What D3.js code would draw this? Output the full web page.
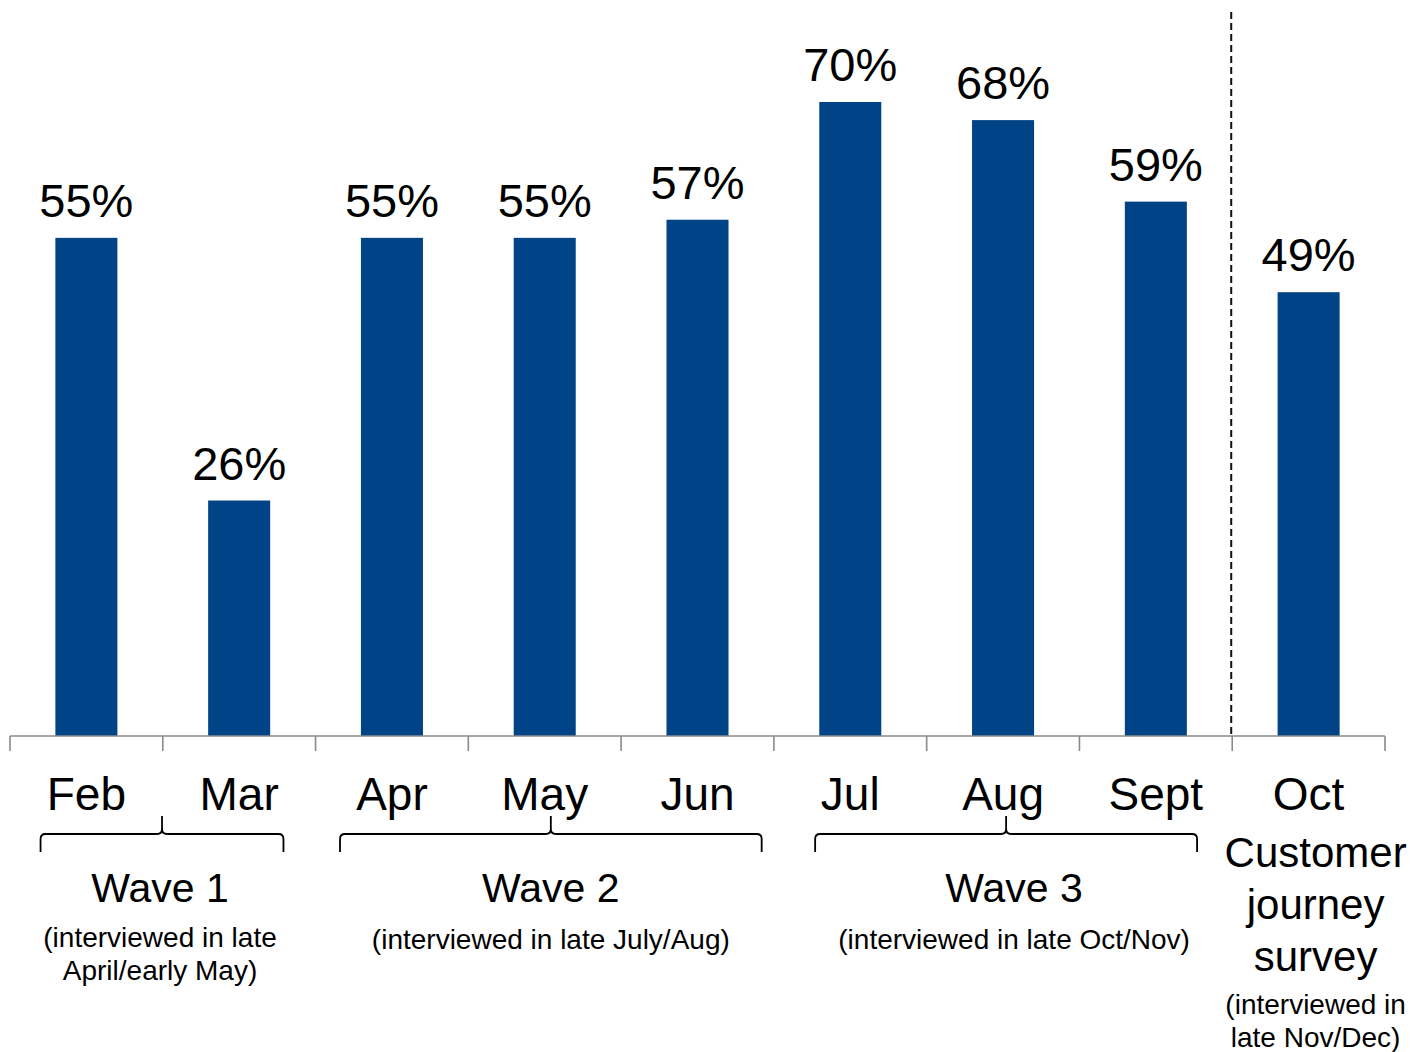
<!DOCTYPE html>
<html>
<head>
<meta charset="utf-8">
<script src="https://cdn.jsdelivr.net/npm/d3@7"></script>
<style>
  html, body { margin: 0; padding: 0; background: #fff; }
  svg { display: block; font-family: "Liberation Sans", Arial, sans-serif; }
</style>
</head>
<body>
<svg id="chart" width="1412" height="1052"></svg>
<script>
// Monthly share (%) by survey month
const months = ["Feb", "Mar", "Apr", "May", "Jun", "Jul", "Aug", "Sept", "Oct"];
const values = [55, 26, 55, 55, 57, 70, 68, 59, 49];

// Survey waves grouping the months
const waveNames = ["Wave 1", "Wave 2", "Wave 3"];
const waveMonths = [["Feb", "Mar"], ["Apr", "May", "Jun"], ["Jul", "Aug", "Sept"]];
const waveNotes = [
  ["(interviewed in late", "April/early May)"],
  ["(interviewed in late July/Aug)"],
  ["(interviewed in late Oct/Nov)"]
];

// Separate customer journey survey in October
const cjTitle = ["Customer", "journey", "survey"];
const cjNote = ["(interviewed in", "late Nov/Dec)"];

const svg = d3.select("#chart");
const axisY = 736;

const x = d3.scaleBand()
  .domain(months)
  .range([10, 1385])
  .paddingInner(0.594)
  .paddingOuter(0.297);

const y = d3.scaleLinear()
  .domain([0, 70])
  .range([axisY, 102]);

const step = x.step();
const bandStart = m => x(m) - x.paddingOuter() * step;

// Bars
svg.append("g")
  .selectAll("rect")
  .data(months)
  .join("rect")
  .attr("x", d => x(d))
  .attr("width", x.bandwidth())
  .attr("y", (d, i) => y(values[i]))
  .attr("height", (d, i) => axisY - y(values[i]))
  .attr("fill", "#014387");

// Value labels
svg.append("g")
  .selectAll("text")
  .data(months)
  .join("text")
  .attr("x", d => x(d) + x.bandwidth() / 2)
  .attr("y", (d, i) => y(values[i]) - 21)
  .attr("text-anchor", "middle")
  .attr("font-size", 47)
  .attr("fill", "#000")
  .text((d, i) => values[i] + "%");

// Category axis: baseline with ticks at the band boundaries
const axisG = svg.append("g").attr("stroke", "#8a8a8a").attr("stroke-width", 1.6);
axisG.append("line")
  .attr("x1", 10).attr("x2", 1385)
  .attr("y1", axisY).attr("y2", axisY);
const tickXs = months.map(m => bandStart(m)).concat([1385]);
axisG.selectAll("line.tick")
  .data(tickXs)
  .join("line")
  .attr("class", "tick")
  .attr("x1", d => d).attr("x2", d => d)
  .attr("y1", axisY).attr("y2", axisY + 15);

// Month labels
svg.append("g")
  .selectAll("text")
  .data(months)
  .join("text")
  .attr("x", d => x(d) + x.bandwidth() / 2)
  .attr("y", 810)
  .attr("text-anchor", "middle")
  .attr("font-size", 46)
  .attr("fill", "#000")
  .text(d => d);

// Dashed separator before the customer journey survey
const sepX = bandStart("Oct") - 1;
svg.append("line")
  .attr("x1", sepX).attr("x2", sepX)
  .attr("y1", 12).attr("y2", axisY)
  .attr("stroke", "#111")
  .attr("stroke-width", 2)
  .attr("stroke-dasharray", "7,4");

// Curly braces under each wave
const braceInset = [[0.2, 0.21], [0.16, 0.08], [0.27, 0.23]];
const braceTop = 834, braceTip = 852, bracePeak = 816, r = 5;
waveMonths.forEach((ms, i) => {
  const first = ms[0], last = ms[ms.length - 1];
  const x0 = bandStart(first) + braceInset[i][0] * step;
  const x1 = bandStart(last) + step - braceInset[i][1] * step;
  const mid = (x0 + x1) / 2;
  const p = d3.path();
  p.moveTo(x0, braceTip);
  p.lineTo(x0, braceTop + r);
  p.quadraticCurveTo(x0, braceTop, x0 + r, braceTop);
  p.lineTo(mid - r, braceTop);
  p.quadraticCurveTo(mid, braceTop, mid, braceTop - r);
  p.lineTo(mid, bracePeak);
  p.moveTo(mid, braceTop - r);
  p.quadraticCurveTo(mid, braceTop, mid + r, braceTop);
  p.lineTo(x1 - r, braceTop);
  p.quadraticCurveTo(x1, braceTop, x1, braceTop + r);
  p.lineTo(x1, braceTip);
  svg.append("path")
    .attr("d", p.toString())
    .attr("fill", "none")
    .attr("stroke", "#000")
    .attr("stroke-width", 1.8);

  const textX = mid + (i === 2 ? 8 : (i === 0 ? -2 : 0));
  svg.append("text")
    .attr("x", textX)
    .attr("y", 902)
    .attr("text-anchor", "middle")
    .attr("font-size", 41)
    .attr("fill", "#000")
    .text(waveNames[i]);

  const noteStart = waveNotes[i].length > 1 ? 947 : 949;
  waveNotes[i].forEach((line, j) => {
    svg.append("text")
      .attr("x", textX)
      .attr("y", noteStart + j * 33)
      .attr("text-anchor", "middle")
      .attr("font-size", 28)
      .attr("fill", "#000")
      .text(line);
  });
});

// Customer journey survey caption under Oct
const cjX = x("Oct") + x.bandwidth() / 2 + 7;
cjTitle.forEach((line, j) => {
  svg.append("text")
    .attr("x", cjX)
    .attr("y", 867 + j * 52)
    .attr("text-anchor", "middle")
    .attr("font-size", 42)
    .attr("fill", "#000")
    .text(line);
});
cjNote.forEach((line, j) => {
  svg.append("text")
    .attr("x", cjX)
    .attr("y", 1014 + j * 33)
    .attr("text-anchor", "middle")
    .attr("font-size", 28)
    .attr("fill", "#000")
    .text(line);
});
</script>
</body>
</html>
